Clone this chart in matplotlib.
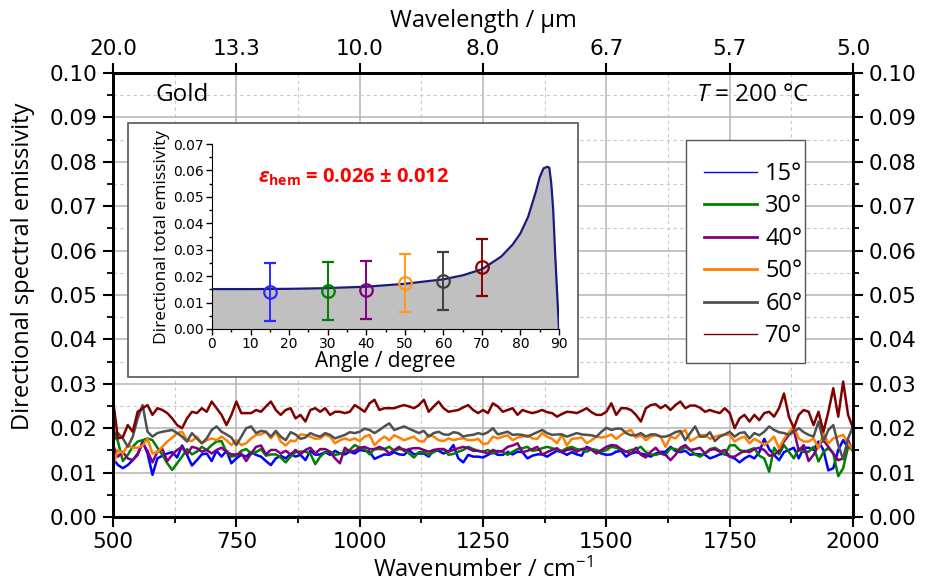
import numpy as np
import matplotlib.pyplot as plt
from matplotlib.lines import Line2D
from matplotlib.patches import Rectangle
from matplotlib.ticker import MultipleLocator

plt.rcParams["mathtext.fontset"] = "custom"
plt.rcParams["mathtext.rm"] = "Open Sans"
plt.rcParams["mathtext.it"] = "Open Sans:italic"
plt.rcParams["mathtext.bf"] = "Open Sans:bold"
plt.rcParams["mathtext.bfit"] = "Open Sans:italic:bold"

# ---------- spectra (10 cm-1 spacing) ----------
wavenumber = np.arange(500, 2001, 10)

emis_15 = [0.0132, 0.0117, 0.0110, 0.0117, 0.0128, 0.0140, 0.0170, 0.0143, 0.0095, 0.0132,
           0.0138, 0.0143, 0.0146, 0.0134, 0.0161, 0.0140, 0.0116, 0.0128, 0.0141, 0.0143,
           0.0126, 0.0149, 0.0136, 0.0149, 0.0121, 0.0132, 0.0140, 0.0136, 0.0146, 0.0140,
           0.0136, 0.0126, 0.0117, 0.0132, 0.0138, 0.0132, 0.0142, 0.0136,
           0.0140, 0.0128, 0.0149, 0.0140, 0.0141, 0.0146, 0.0140, 0.0149, 0.0143, 0.0141,
           0.0147, 0.0143, 0.0151, 0.0149, 0.0147, 0.0131, 0.0136, 0.0141, 0.0140, 0.0146,
           0.0141, 0.0140, 0.0151, 0.0141, 0.0143, 0.0143, 0.0136, 0.0151, 0.0149, 0.0143,
           0.0147, 0.0162, 0.0132, 0.0123, 0.0140, 0.0136, 0.0136,
           0.0134, 0.0140, 0.0146, 0.0140, 0.0140, 0.0146, 0.0141, 0.0147, 0.0146, 0.0132,
           0.0138, 0.0141, 0.0141, 0.0136, 0.0143, 0.0149, 0.0146, 0.0140, 0.0146, 0.0141,
           0.0138, 0.0158, 0.0153, 0.0149, 0.0143, 0.0140, 0.0141, 0.0147, 0.0149, 0.0136,
           0.0143, 0.0146, 0.0143, 0.0140, 0.0136, 0.0143, 0.0146,
           0.0147, 0.0158, 0.0149, 0.0146, 0.0149, 0.0140, 0.0142, 0.0141, 0.0140, 0.0132,
           0.0136, 0.0141, 0.0143, 0.0136, 0.0132, 0.0123, 0.0132, 0.0138, 0.0132, 0.0146,
           0.0176, 0.0153, 0.0140, 0.0128, 0.0146, 0.0151, 0.0156, 0.0132, 0.0156, 0.0156,
           0.0151, 0.0170, 0.0151, 0.0105, 0.0110, 0.0151, 0.0173, 0.0156, 0.0158]
emis_30 = [0.0200, 0.0170, 0.0126, 0.0140, 0.0158, 0.0170, 0.0173, 0.0177, 0.0173, 0.0156,
           0.0140, 0.0121, 0.0106, 0.0121, 0.0136, 0.0153, 0.0141, 0.0147, 0.0158, 0.0151,
           0.0162, 0.0170, 0.0171, 0.0146, 0.0136, 0.0138, 0.0149, 0.0153, 0.0143, 0.0146,
           0.0153, 0.0138, 0.0141, 0.0141, 0.0134, 0.0123, 0.0136, 0.0146,
           0.0147, 0.0147, 0.0143, 0.0119, 0.0136, 0.0146, 0.0147, 0.0140, 0.0142, 0.0146,
           0.0151, 0.0162, 0.0156, 0.0153, 0.0141, 0.0153, 0.0153, 0.0153, 0.0158, 0.0149,
           0.0153, 0.0153, 0.0143, 0.0134, 0.0146, 0.0146, 0.0140, 0.0146, 0.0151, 0.0153,
           0.0140, 0.0142, 0.0147, 0.0151, 0.0158, 0.0153, 0.0149,
           0.0147, 0.0151, 0.0143, 0.0149, 0.0147, 0.0140, 0.0147, 0.0153, 0.0155, 0.0158,
           0.0149, 0.0151, 0.0155, 0.0158, 0.0155, 0.0151, 0.0149, 0.0155, 0.0158, 0.0153,
           0.0151, 0.0147, 0.0153, 0.0151, 0.0147, 0.0151, 0.0158, 0.0156, 0.0151, 0.0147,
           0.0151, 0.0153, 0.0158, 0.0146, 0.0141, 0.0140, 0.0143,
           0.0140, 0.0155, 0.0153, 0.0149, 0.0158, 0.0151, 0.0141, 0.0136, 0.0143, 0.0153,
           0.0156, 0.0149, 0.0140, 0.0161, 0.0162, 0.0151, 0.0147, 0.0151, 0.0155, 0.0138,
           0.0132, 0.0102, 0.0156, 0.0141, 0.0162, 0.0147, 0.0132, 0.0155, 0.0146, 0.0147,
           0.0158, 0.0125, 0.0146, 0.0156, 0.0143, 0.0092, 0.0110, 0.0158, 0.0151]
emis_40 = [0.0162, 0.0136, 0.0146, 0.0132, 0.0128, 0.0143, 0.0166, 0.0149, 0.0123, 0.0147,
           0.0153, 0.0126, 0.0140, 0.0151, 0.0158, 0.0141, 0.0158, 0.0155, 0.0147, 0.0151,
           0.0143, 0.0151, 0.0156, 0.0147, 0.0141, 0.0141, 0.0143, 0.0126, 0.0143, 0.0158,
           0.0161, 0.0141, 0.0151, 0.0151, 0.0143, 0.0149, 0.0141, 0.0151,
           0.0141, 0.0151, 0.0156, 0.0143, 0.0153, 0.0153, 0.0147, 0.0132, 0.0121, 0.0156,
           0.0147, 0.0149, 0.0156, 0.0158, 0.0153, 0.0153, 0.0158, 0.0153, 0.0143, 0.0151,
           0.0158, 0.0149, 0.0153, 0.0155, 0.0155, 0.0151, 0.0147, 0.0151, 0.0153, 0.0153,
           0.0147, 0.0151, 0.0155, 0.0158, 0.0155, 0.0149, 0.0149,
           0.0147, 0.0143, 0.0151, 0.0147, 0.0149, 0.0158, 0.0161, 0.0166, 0.0146, 0.0149,
           0.0153, 0.0158, 0.0141, 0.0146, 0.0151, 0.0155, 0.0146, 0.0151, 0.0153, 0.0147,
           0.0153, 0.0155, 0.0151, 0.0143, 0.0151, 0.0158, 0.0162, 0.0161, 0.0153, 0.0147,
           0.0143, 0.0156, 0.0140, 0.0134, 0.0147, 0.0156, 0.0143,
           0.0140, 0.0128, 0.0140, 0.0156, 0.0162, 0.0151, 0.0153, 0.0156, 0.0143, 0.0151,
           0.0153, 0.0147, 0.0151, 0.0136, 0.0136, 0.0143, 0.0149, 0.0146, 0.0153, 0.0156,
           0.0151, 0.0138, 0.0140, 0.0149, 0.0170, 0.0185, 0.0196, 0.0149, 0.0162, 0.0126,
           0.0140, 0.0162, 0.0173, 0.0158, 0.0143, 0.0128, 0.0132, 0.0173, 0.0147]
emis_50 = [0.0115, 0.0151, 0.0143, 0.0162, 0.0156, 0.0156, 0.0161, 0.0176, 0.0143, 0.0146,
           0.0158, 0.0170, 0.0179, 0.0189, 0.0192, 0.0173, 0.0171, 0.0181, 0.0166, 0.0173,
           0.0177, 0.0173, 0.0181, 0.0173, 0.0162, 0.0173, 0.0162, 0.0166, 0.0177, 0.0185,
           0.0186, 0.0192, 0.0177, 0.0191, 0.0170, 0.0161, 0.0172, 0.0171,
           0.0186, 0.0185, 0.0181, 0.0176, 0.0177, 0.0185, 0.0181, 0.0166, 0.0173, 0.0177,
           0.0173, 0.0177, 0.0171, 0.0181, 0.0185, 0.0162, 0.0173, 0.0181, 0.0173, 0.0184,
           0.0179, 0.0173, 0.0177, 0.0181, 0.0171, 0.0170, 0.0185, 0.0181, 0.0173, 0.0171,
           0.0177, 0.0173, 0.0176, 0.0177, 0.0173, 0.0173, 0.0176,
           0.0164, 0.0166, 0.0181, 0.0177, 0.0181, 0.0184, 0.0173, 0.0179, 0.0181, 0.0184,
           0.0177, 0.0176, 0.0189, 0.0181, 0.0176, 0.0166, 0.0185, 0.0161, 0.0176, 0.0177,
           0.0179, 0.0166, 0.0173, 0.0181, 0.0179, 0.0181, 0.0186, 0.0176, 0.0185, 0.0192,
           0.0196, 0.0179, 0.0184, 0.0173, 0.0181, 0.0184, 0.0181,
           0.0158, 0.0181, 0.0177, 0.0189, 0.0196, 0.0171, 0.0177, 0.0184, 0.0185, 0.0176,
           0.0181, 0.0184, 0.0186, 0.0185, 0.0170, 0.0177, 0.0181, 0.0166, 0.0176, 0.0170,
           0.0162, 0.0170, 0.0181, 0.0155, 0.0176, 0.0191, 0.0204, 0.0177, 0.0170, 0.0170,
           0.0177, 0.0155, 0.0189, 0.0166, 0.0177, 0.0181, 0.0185, 0.0166, 0.0151]
emis_60 = [0.0170, 0.0189, 0.0177, 0.0158, 0.0181, 0.0222, 0.0252, 0.0192, 0.0181, 0.0189,
           0.0192, 0.0194, 0.0196, 0.0189, 0.0181, 0.0170, 0.0189, 0.0177, 0.0166, 0.0177,
           0.0196, 0.0204, 0.0192, 0.0186, 0.0179, 0.0162, 0.0181, 0.0200, 0.0204, 0.0189,
           0.0194, 0.0192, 0.0181, 0.0194, 0.0181, 0.0173, 0.0191, 0.0186,
           0.0176, 0.0179, 0.0189, 0.0184, 0.0181, 0.0189, 0.0185, 0.0177, 0.0181, 0.0185,
           0.0191, 0.0189, 0.0192, 0.0199, 0.0196, 0.0189, 0.0196, 0.0204, 0.0211, 0.0196,
           0.0200, 0.0204, 0.0199, 0.0194, 0.0189, 0.0194, 0.0181, 0.0189, 0.0192, 0.0186,
           0.0185, 0.0191, 0.0189, 0.0181, 0.0184, 0.0185, 0.0189,
           0.0186, 0.0191, 0.0200, 0.0186, 0.0189, 0.0192, 0.0185, 0.0186, 0.0185, 0.0181,
           0.0186, 0.0191, 0.0196, 0.0189, 0.0185, 0.0186, 0.0186, 0.0181, 0.0185, 0.0189,
           0.0186, 0.0185, 0.0184, 0.0181, 0.0192, 0.0201, 0.0196, 0.0199, 0.0199, 0.0189,
           0.0184, 0.0184, 0.0189, 0.0181, 0.0186, 0.0186, 0.0181,
           0.0181, 0.0185, 0.0191, 0.0194, 0.0173, 0.0189, 0.0204, 0.0181, 0.0181, 0.0191,
           0.0171, 0.0181, 0.0186, 0.0192, 0.0181, 0.0189, 0.0191, 0.0177, 0.0189, 0.0184,
           0.0192, 0.0204, 0.0196, 0.0191, 0.0189, 0.0185, 0.0192, 0.0200, 0.0191, 0.0185,
           0.0181, 0.0215, 0.0170, 0.0196, 0.0207, 0.0162, 0.0130, 0.0177, 0.0204]
emis_70 = [0.0264, 0.0177, 0.0180, 0.0207, 0.0192, 0.0237, 0.0245, 0.0252, 0.0230, 0.0245,
           0.0241, 0.0234, 0.0222, 0.0207, 0.0200, 0.0222, 0.0237, 0.0234, 0.0245, 0.0237,
           0.0260, 0.0245, 0.0230, 0.0207, 0.0230, 0.0260, 0.0234, 0.0234, 0.0234, 0.0241,
           0.0237, 0.0249, 0.0260, 0.0241, 0.0230, 0.0241, 0.0245, 0.0222,
           0.0230, 0.0215, 0.0241, 0.0245, 0.0237, 0.0245, 0.0230, 0.0237, 0.0237, 0.0234,
           0.0237, 0.0252, 0.0245, 0.0237, 0.0256, 0.0264, 0.0241, 0.0245, 0.0245, 0.0245,
           0.0249, 0.0252, 0.0249, 0.0245, 0.0252, 0.0264, 0.0237, 0.0249, 0.0260, 0.0245,
           0.0237, 0.0239, 0.0241, 0.0247, 0.0252, 0.0241, 0.0234,
           0.0241, 0.0234, 0.0256, 0.0249, 0.0237, 0.0241, 0.0245, 0.0230, 0.0241, 0.0237,
           0.0234, 0.0237, 0.0241, 0.0236, 0.0234, 0.0226, 0.0232, 0.0237, 0.0236, 0.0234,
           0.0239, 0.0245, 0.0236, 0.0230, 0.0230, 0.0237, 0.0256, 0.0230, 0.0245, 0.0245,
           0.0241, 0.0230, 0.0215, 0.0245, 0.0252, 0.0254, 0.0245,
           0.0252, 0.0241, 0.0252, 0.0260, 0.0245, 0.0251, 0.0251, 0.0246, 0.0237, 0.0241,
           0.0237, 0.0234, 0.0245, 0.0234, 0.0200, 0.0222, 0.0230, 0.0215, 0.0230, 0.0218,
           0.0234, 0.0237, 0.0226, 0.0245, 0.0278, 0.0226, 0.0200, 0.0230, 0.0241, 0.0237,
           0.0207, 0.0237, 0.0192, 0.0237, 0.0290, 0.0226, 0.0305, 0.0230, 0.0200]

series = [emis_15, emis_30, emis_40, emis_50, emis_60, emis_70]
angle_labels = ["15°", "30°", "40°", "50°", "60°", "70°"]
line_colors = ["#0000ff", "#008000", "#800080", "#ff8000", "#505050", "#800000"]

wn_ticks = [500, 750, 1000, 1250, 1500, 1750, 2000]
wl_labels = ["20.0", "13.3", "10.0", "8.0", "6.7", "5.7", "5.0"]

# inset: directional total emissivity vs angle
curve_angle = [0, 10, 20, 28, 40, 50, 60, 65, 70, 75, 78, 80, 82, 84, 85, 86, 87,
               87.5, 88, 88.5, 89, 89.5, 90]
curve_emis = [0.0151, 0.0151, 0.0152, 0.0154, 0.0160, 0.0171, 0.0188, 0.0203, 0.0226,
              0.0274, 0.0320, 0.0362, 0.0425, 0.0520, 0.0575, 0.0608, 0.0614,
              0.0610, 0.0550, 0.0450, 0.0286, 0.0140, 0.0]
meas_angle = [15, 30, 40, 50, 60, 70]
meas_emis = [0.0141, 0.0145, 0.0148, 0.0173, 0.0183, 0.0233]
meas_low = [0.0032, 0.0034, 0.0038, 0.0063, 0.0072, 0.0125]
meas_high = [0.0251, 0.0255, 0.0256, 0.0282, 0.0290, 0.0342]
meas_colors = ["#2a2aff", "#008000", "#800080", "#ff9a1a", "#404040", "#8b0000"]

label_font = "Open Sans"

fig = plt.figure(figsize=(9.27, 5.83), dpi=100)
ax = fig.add_axes([0.1219, 0.1132, 0.7983, 0.7616])

for y, lab, c in zip(series, angle_labels, line_colors):
    ax.plot(wavenumber, y, color=c, lw=1.8, label=lab)

ax.set_xlim(500, 2000)
ax.set_ylim(0, 0.10)
ax.set_xticks(wn_ticks)
ax.set_yticks(np.arange(0, 0.101, 0.01))
ax.set_yticklabels([f"{v:.2f}" for v in np.arange(0, 0.101, 0.01)])
ax.xaxis.set_minor_locator(MultipleLocator(125))
ax.yaxis.set_minor_locator(MultipleLocator(0.005))
ax.grid(which="major", color="#b4b4b4", lw=1.1)
ax.grid(which="minor", color="#c8c8c8", lw=0.8, ls=(0, (3, 3)))
ax.set_axisbelow(True)
ax.tick_params(axis="both", which="major", direction="out", length=7, width=1.5,
               labelsize=15.5, pad=4)
ax.tick_params(axis="both", which="minor", direction="out", length=4, width=1.3)
ax.tick_params(axis="y", which="both", right=True, labelright=True)
for s in ax.spines.values():
    s.set_linewidth(2)

ax.set_xlabel("Wavenumber / cm$^{-1}$", fontsize=17, family=label_font)
ax.set_ylabel("Directional spectral emissivity", fontsize=17, family=label_font)
ax.xaxis.set_label_coords(0.5, -0.092)
ax.yaxis.set_label_coords(-0.106, 0.565)

top = ax.twiny()
top.set_xlim(ax.get_xlim())
top.set_xticks(wn_ticks)
top.set_xticklabels(wl_labels)
top.tick_params(axis="x", direction="out", length=7, width=1.5, labelsize=15.5, pad=3)
top.set_xlabel("Wavelength / µm", fontsize=17, family=label_font, labelpad=9)
for s in top.spines.values():
    s.set_linewidth(2)

ax.text(0.0568, 0.950, "Gold", transform=ax.transAxes, fontsize=17.5,
        family=label_font, va="center")
ax.text(0.9405, 0.950, "$T$ = 200 °C", transform=ax.transAxes, fontsize=17.5,
        family=label_font, va="center", ha="right")

# legend with its own frame
fig.patches.append(Rectangle((686 / 927, 1 - 363 / 583), 119 / 927, 223 / 583,
                             transform=fig.transFigure, facecolor="white",
                             edgecolor="#555555", lw=1, zorder=5))
handles = [Line2D([], [], color=c, lw=w) for c, w in zip(line_colors, [1, 2, 2, 2, 2, 1])]
leg = fig.legend(handles, angle_labels, loc="upper left",
                 bbox_to_anchor=(692 / 927, 1 - 150 / 583), frameon=False,
                 prop={"family": label_font, "size": 17}, handlelength=2.25,
                 handletextpad=0.35, labelspacing=0.36, borderpad=0.0)
leg.set_zorder(6)

# inset frame and axes
fig.patches.append(Rectangle((128 / 927, 1 - 377 / 583), 450 / 927, 254 / 583,
                             transform=fig.transFigure, facecolor="white",
                             edgecolor="#555555", lw=1.2, zorder=5))
ins = fig.add_axes([212 / 927, 1 - 329 / 583, 347 / 927, 185 / 583], zorder=7)
ins.patch.set_alpha(0)
ins.fill_between(curve_angle, curve_emis, 0, color="#c0c0c0", lw=0)
ins.plot(curve_angle, curve_emis, color="#1a1a80", lw=1.6)
for a, m, lo, hi, c in zip(meas_angle, meas_emis, meas_low, meas_high, meas_colors):
    ins.errorbar(a, m, yerr=[[m - lo], [hi - m]], fmt="o", mfc="none", mec=c,
                 ecolor=c, ms=9, mew=1.6, elinewidth=1.4, capsize=4.5, capthick=1.4)
ins.set_xlim(0, 90)
ins.set_ylim(0, 0.07)
ins.set_xticks(range(0, 91, 10))
ins.set_yticks(np.arange(0, 0.071, 0.01))
ins.set_yticklabels([f"{v:.2f}" for v in np.arange(0, 0.071, 0.01)])
ins.xaxis.set_minor_locator(MultipleLocator(5))
ins.yaxis.set_minor_locator(MultipleLocator(0.005))
ins.tick_params(which="major", direction="out", length=4, width=1, labelsize=10, pad=2)
ins.tick_params(which="minor", direction="out", length=2.5, width=1)
ins.spines["top"].set_visible(False)
ins.spines["right"].set_visible(False)
ins.set_xlabel("Angle / degree", fontsize=15, family=label_font, labelpad=0)
ins.set_ylabel("Directional total emissivity", fontsize=12.5, family=label_font, labelpad=2)
ins.text(12, 0.0575, r"$\mathbfit{\varepsilon}_{\mathbf{hem}}$ = 0.026 ± 0.012",
         color="#ff0000", fontsize=14.5, fontweight="bold", family=label_font, va="center")

fig.savefig("out.png", dpi=100)
